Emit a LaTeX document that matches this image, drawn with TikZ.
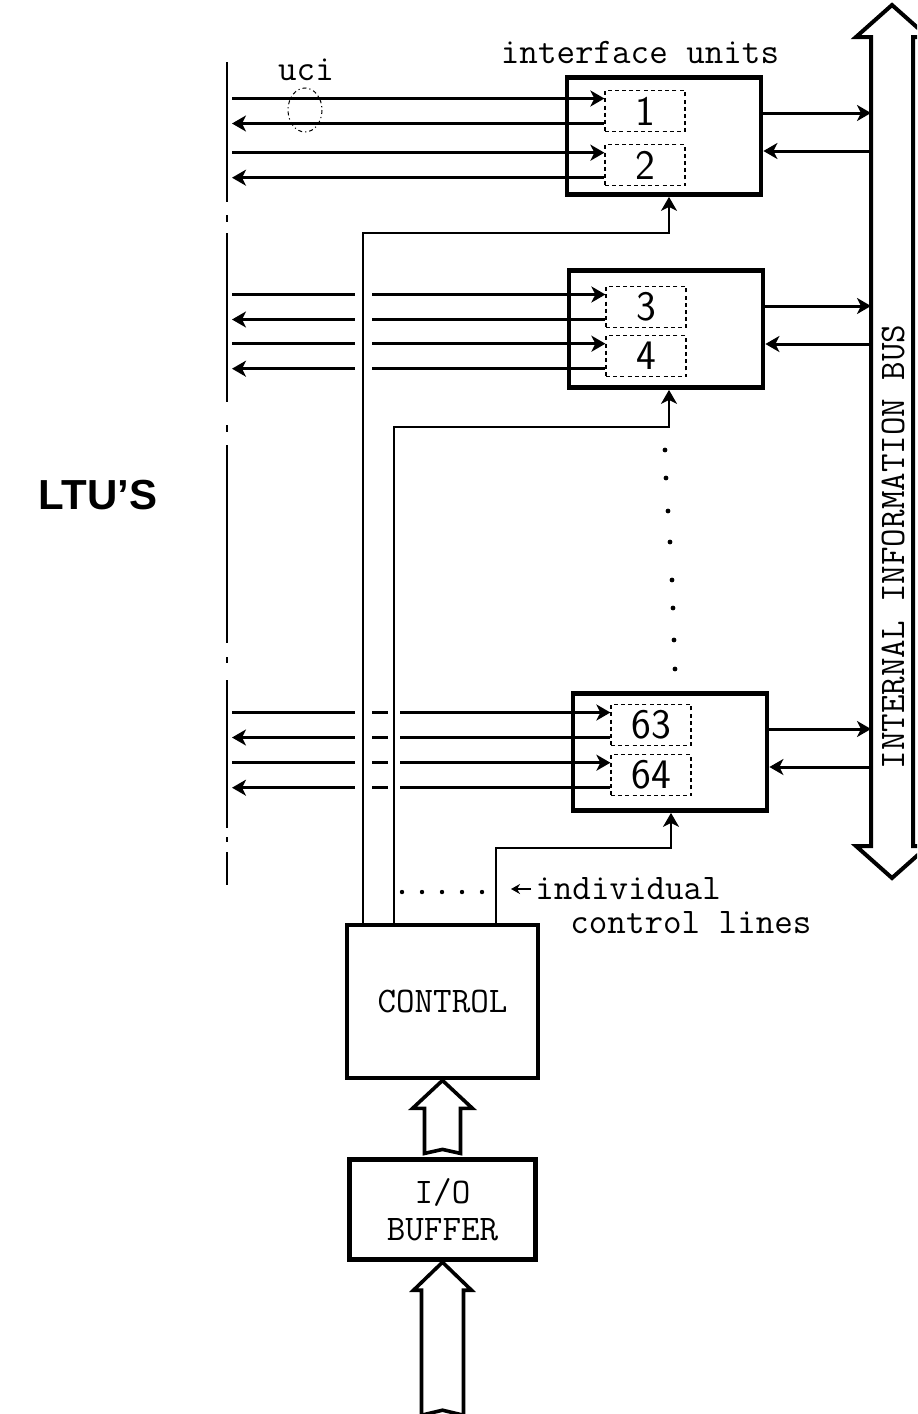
\documentclass[tikz,border=0pt]{standalone}
\usepackage{fontspec}
\newfontfamily\ltusans{Liberation Sans}
\usetikzlibrary{positioning, calc, arrows.meta}
\newcommand{\monofont}{\fontsize{18}{21}\selectfont\ttfamily}
\newcommand{\digitfont}{\fontsize{21}{24}\selectfont\sffamily}

\begin{document}
\begin{tikzpicture}[
        x=0.5pt, y=-0.5pt,
        ubox/.style={draw, line width=2.4pt, minimum width=97pt, minimum height=58.5pt},
        slot/.style={draw, dash pattern=on 2pt off 1.6pt, line width=0.6pt,
                     minimum width=40pt, minimum height=20.5pt, inner sep=0pt,
                     font=\digitfont},
        blk/.style={draw, line width=2.4pt, align=center, font=\monofont},
        lbl/.style={inner sep=0pt, font=\monofont},
        sig/.style={line width=1.5pt},
        ctl/.style={line width=1.1pt},
        sigin/.style={-{Stealth[length=7pt, width=8pt, inset=2pt]}},
        sigout/.style={{Stealth[length=7pt, width=8pt, inset=2pt]}-},
        hollow/.style={draw, line width=1.8pt, line join=miter, fill=white},
        ltuline/.style={line width=1pt},
    ]
    \useasboundingbox (0,0) rectangle (917,1414);
    \clip (0,0) rectangle (917,1414);

    % ---- LTU side ----
    \node[font=\ltusans\bfseries\fontsize{21}{24}\selectfont] (ltu) at (98,495) {LTU’S};
    \foreach \a/\b in {62/202, 215/222, 233/402, 425/432, 445/643, 657/663, 680/828, 837/842, 852/885}
        \draw[ltuline] (227,\a) -- (227,\b);

    % ---- Interface units ----
    \node[ubox] (ib1) at (664,136) {};
    \node[ubox] (ib2) at (666,329) {};
    \node[ubox] (ib3) at (670,752) {};
    \node[slot] (u1) at (645,111) {1};
    \node[slot, below=6pt of u1] (u2) {2};
    \node[slot] (u3) at (646,307) {3};
    \node[slot, below=3.5pt of u3] (u4) {4};
    \node[slot] (u63) at (651,725) {63};
    \node[slot, below=4pt of u63] (u64) {64};
    \node[lbl] (ifu) at (640,52) {interface units};
    \node[lbl] (ucilbl) at (306,70) {uci};
    \draw[dash pattern=on 2pt off 1.5pt on 0.6pt off 1.5pt, line width=0.5pt]
        (305,110) ellipse (17 and 22);

    % ---- Control and buffer ----
    \node[blk, minimum width=95.5pt, minimum height=76.5pt] (ctrl) at (442.5,1001.5) {CONTROL};
    \node[blk, minimum width=93pt, minimum height=50pt, below=38.5pt of ctrl] (io) {I/O\\[-2.5pt]BUFFER};
    \draw[hollow] (ctrl.south) -- ++(30,28) -- ++(-12,0) -- ++(0,45) -- ++(-18,-4)
        -- ++(-18,4) -- ++(0,-45) -- ++(-12,0) -- cycle;
    \draw[hollow] (io.south) -- ++(29,28) -- ++(-8,0) -- ++(0,125) -- ++(-21,-5)
        -- ++(-21,5) -- ++(0,-125) -- ++(-8,0) -- cycle;

    % ---- Individual control lines ----
    \coordinate (c1) at (363,0);
    \coordinate (c2) at (394,0);
    \coordinate (c3) at (496,0);
    \coordinate (k1) at (669,233);
    \coordinate (k2) at (669,427);
    \coordinate (k3) at (671,848);
    \draw[ctl, sigin] (ctrl.north -| c1) |- (k1) -- (ib1.south -| k1);
    \draw[ctl, sigin] (ctrl.north -| c2) |- (k2) -- (ib2.south -| k2);
    \draw[ctl, sigin] (ctrl.north -| c3) |- (k3) -- (ib3.south -| k3);
    \foreach \i in {0,...,4}
        \fill (402+20*\i,892) circle (2.2);
    \foreach \px/\py in {665/450, 666/478, 668/511, 670/542, 672/580, 673/608, 674/640, 675/669}
        \fill (\px,\py) circle (2.4);
    \node[lbl, anchor=west] (ind) at (535,889) {individual};
    \node[lbl, anchor=west] (ctlines) at (570,923) {control lines};
    \coordinate (indtip) at (511,889);
    \draw[ctl, -{Stealth[length=4.5pt, width=5pt]}, shorten <=2pt] (ind.west) -- (indtip);

    % ---- Lines to the LTU's ----
    \coordinate (lend) at (232,0);
    \coordinate (g1a) at (355,0);
    \coordinate (g1b) at (372,0);
    \coordinate (g2a) at (388,0);
    \coordinate (g2b) at (400,0);
    \foreach \u in {1,2,3,4,63,64} {
        \coordinate (i\u) at ([yshift=6.25pt]u\u.west);
        \coordinate (o\u) at ([yshift=-6.25pt]u\u.west);
    }
    \foreach \u in {1,2} {
        \draw[sig, sigin] (lend |- i\u) -- (i\u);
        \draw[sig, sigout] (lend |- o\u) -- (o\u);
    }
    \foreach \u in {3,4} {
        \draw[sig] (lend |- i\u) -- (g1a |- i\u);
        \draw[sig, sigin] (g1b |- i\u) -- (i\u);
        \draw[sig, sigout] (lend |- o\u) -- (g1a |- o\u);
        \draw[sig] (g1b |- o\u) -- (o\u);
    }
    \foreach \u in {63,64} {
        \draw[sig] (lend |- i\u) -- (g1a |- i\u);
        \draw[sig] (g1b |- i\u) -- (g2a |- i\u);
        \draw[sig, sigin] (g2b |- i\u) -- (i\u);
        \draw[sig, sigout] (lend |- o\u) -- (g1a |- o\u);
        \draw[sig] (g1b |- o\u) -- (g2a |- o\u);
        \draw[sig] (g2b |- o\u) -- (o\u);
    }

    % ---- Internal information bus ----
    \draw[hollow, line width=2pt] (892,5) -- (928,37) -- (913,37) -- (913,846) -- (928,846)
        -- (892,878) -- (856,846) -- (871,846) -- (871,37) -- (856,37) -- cycle;
    \node[lbl, rotate=90] (bustxt) at (893,547) {INTERNAL INFORMATION BUS};
    \coordinate (busl) at (871,0);
    \foreach \b in {1,2,3} {
        \coordinate (bo\b) at ([yshift=11.5pt]ib\b.east);
        \coordinate (bi\b) at ([yshift=-7.5pt]ib\b.east);
        \draw[sig, sigin] (bo\b) -- (busl |- bo\b);
        \draw[sig, sigin] (busl |- bi\b) -- (bi\b);
    }
\end{tikzpicture}
\end{document}
